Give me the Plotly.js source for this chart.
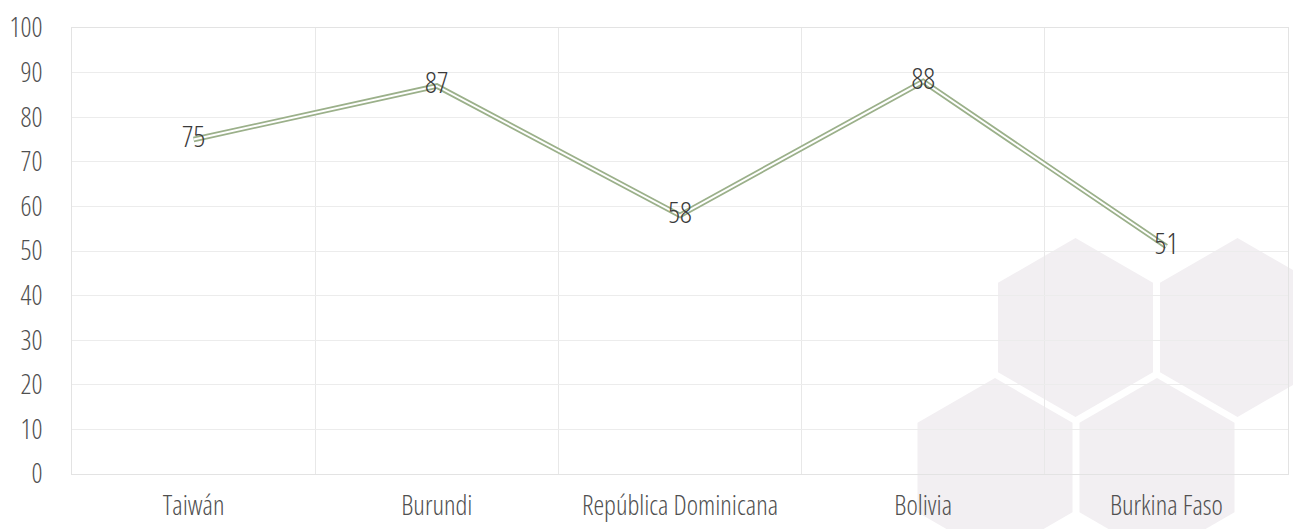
<!DOCTYPE html>
<html>
<head>
<meta charset="utf-8">
<script src="https://cdn.plot.ly/plotly-3.0.1.min.js"></script>
<style>
html,body{margin:0;padding:0;background:#fff;}
#wrap{position:relative;width:1293px;height:529px;overflow:hidden;}
#bg{position:absolute;left:0;top:0;}
#chart{position:absolute;left:0;top:0;width:1293px;height:529px;}
#chart text{font-stretch:75% !important;}
</style>
</head>
<body>
<div id="wrap">
<svg id="bg" width="1293" height="529"></svg>
<div id="chart"></div>
</div>
<script>
var categories = ["Taiwán", "Burundi", "República Dominicana", "Bolivia", "Burkina Faso"];
var values = [75, 87, 58, 88, 51];
var yTicks = [0, 10, 20, 30, 40, 50, 60, 70, 80, 90, 100];

// decorative hexagon watermark
(function(){
  var svg = document.getElementById('bg');
  var R = 89.5, w = Math.sqrt(3) * R;
  var centers = [[1075.5, 327.5], [1237.5, 327.5], [995, 467.5], [1157, 467.5]];
  centers.forEach(function(c){
    var cx = c[0], cy = c[1];
    var pts = [[cx, cy - R], [cx + w/2, cy - R/2], [cx + w/2, cy + R/2], [cx, cy + R], [cx - w/2, cy + R/2], [cx - w/2, cy - R/2]];
    var p = document.createElementNS('http://www.w3.org/2000/svg', 'polygon');
    p.setAttribute('points', pts.map(function(q){return q[0].toFixed(1) + ',' + q[1].toFixed(1);}).join(' '));
    p.setAttribute('fill', '#f2eff2');
    svg.appendChild(p);
  });
})();

var font = "'Open Sans', 'Roboto Condensed', sans-serif";

function f(size, color){ return {family: font, size: size, color: color, stretch: 'condensed', weight: 300}; }

var outer = {
  x: categories, y: values, type: 'scatter', mode: 'lines',
  line: {color: '#9bb08a', width: 5.5}, hoverinfo: 'skip', showlegend: false
};
var inner = {
  x: categories, y: values, type: 'scatter', mode: 'lines+text',
  line: {color: '#ffffff', width: 2},
  text: values.map(String), textposition: 'middle center',
  textfont: f(29, '#3a3a3a'),
  showlegend: false
};

var layout = {
  width: 1293, height: 529,
  margin: {l: 72, r: 5, t: 28, b: 55},
  paper_bgcolor: 'rgba(0,0,0,0)',
  plot_bgcolor: 'rgba(0,0,0,0)',
  font: f(26, '#595959'),
  xaxis: {
    type: 'category', tickson: 'boundaries', range: [-0.5, 4.5], autorange: false,
    showgrid: true, gridcolor: '#e8e8e8', gridwidth: 1,
    showline: true, linecolor: '#e3e3e3', linewidth: 1, mirror: true,
    ticks: '', ticklabelstandoff: 8, tickangle: 0,
    tickfont: f(27, '#505050'),
    zeroline: false
  },
  yaxis: {
    range: [0, 100], autorange: false, tickvals: yTicks,
    showgrid: true, gridcolor: '#ececec', gridwidth: 1,
    showline: true, linecolor: '#e3e3e3', linewidth: 1, mirror: true,
    ticks: '', ticklabelstandoff: 23,
    tickfont: f(27, '#505050'),
    zeroline: false
  }
};

Plotly.newPlot('chart', [outer, inner], layout, {displayModeBar: false, staticPlot: true});
</script>
</body>
</html>
